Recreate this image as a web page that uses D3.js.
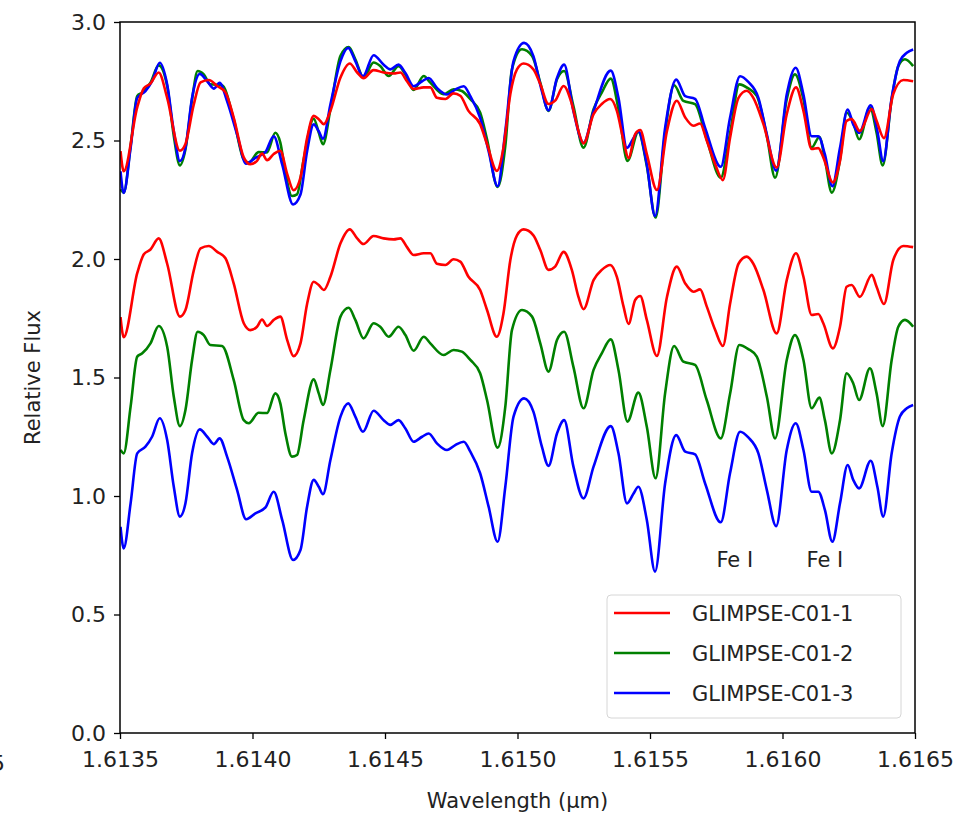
<!DOCTYPE html>
<html>
<head>
<meta charset="utf-8">
<script src="https://cdn.jsdelivr.net/npm/d3@7"></script>
<style>
  body { margin: 0; background: #fff; }
  svg { display: block; }
  text { font-family: "DejaVu Sans", sans-serif; fill: #222; }
</style>
</head>
<body>
<div id="chart"></div>
<script>
const width = 961;
const height = 819;
const margin = { top: 22, right: 46, bottom: 86, left: 120 };

const spec1 = [[1.613502,1.755],[1.613514,1.67],[1.613565,1.94],[1.613590,2.02],[1.613615,2.04],[1.613646,2.087],[1.613678,1.98],[1.613726,1.757],[1.613747,1.785],[1.613778,1.95],
  [1.613804,2.045],[1.613835,2.055],[1.613867,2.03],[1.613898,2.003],[1.613929,1.897],[1.613967,1.729],[1.613992,1.70],[1.614017,1.714],[1.614036,1.745],[1.614055,1.717],
  [1.614080,1.743],[1.614105,1.757],[1.614131,1.658],[1.614155,1.59],[1.614181,1.644],[1.614206,1.81],[1.614231,1.904],[1.614250,1.89],[1.614269,1.869],[1.614294,1.925],
  [1.614332,2.066],[1.614367,2.125],[1.614395,2.087],[1.614419,2.063],[1.614457,2.097],[1.614495,2.087],[1.614533,2.083],[1.614558,2.087],[1.614583,2.05],[1.614608,2.017],
  [1.614646,2.024],[1.614671,2.024],[1.614696,1.98],[1.614728,1.975],[1.614759,1.999],[1.614784,1.989],[1.614815,1.925],[1.614859,1.869],[1.614885,1.785],[1.614922,1.672],
  [1.614947,1.77],[1.614973,1.996],[1.614998,2.10],[1.615023,2.125],[1.615060,2.10],[1.615086,2.038],[1.615117,1.954],[1.615142,1.968],[1.615174,2.03],[1.615205,1.954],
  [1.615230,1.84],[1.615249,1.788],[1.615287,1.911],[1.615318,1.954],[1.615350,1.975],[1.615375,1.925],[1.615400,1.80],[1.615419,1.726],[1.615444,1.827],[1.615463,1.844],
  [1.615488,1.743],[1.615526,1.591],[1.615564,1.84],[1.615601,1.968],[1.615633,1.897],[1.615664,1.862],[1.615689,1.872],[1.615714,1.80],[1.615746,1.70],[1.615775,1.633],
  [1.615802,1.81],[1.615834,1.98],[1.615865,2.01],[1.615890,1.98],[1.615928,1.869],[1.615978,1.686],[1.616016,1.911],[1.616051,2.024],[1.616079,1.925],[1.616110,1.764],
  [1.616135,1.768],[1.616154,1.729],[1.616190,1.623],[1.616217,1.714],[1.616242,1.883],[1.616261,1.89],[1.616292,1.84],[1.616337,1.933],[1.616355,1.883],[1.616383,1.81],
  [1.616418,1.996],[1.616456,2.055],[1.616493,2.05]];

const spec2 = [[1.613502,1.194],[1.613514,1.18],[1.613540,1.377],[1.613565,1.588],[1.613584,1.602],[1.613615,1.644],[1.613646,1.717],[1.613678,1.63],[1.613703,1.419],[1.613726,1.295],
  [1.613747,1.363],[1.613772,1.574],[1.613793,1.693],[1.613816,1.679],[1.613841,1.637],[1.613885,1.633],[1.613929,1.49],[1.613967,1.32],[1.613986,1.307],[1.614023,1.351],
  [1.614055,1.35],[1.614086,1.433],[1.614105,1.391],[1.614124,1.265],[1.614149,1.166],[1.614168,1.173],[1.614193,1.32],[1.614231,1.492],[1.614250,1.433],[1.614266,1.384],
  [1.614294,1.532],[1.614332,1.757],[1.614363,1.794],[1.614388,1.743],[1.614419,1.665],[1.614457,1.729],[1.614482,1.714],[1.614514,1.672],[1.614551,1.714],[1.614577,1.679],
  [1.614608,1.613],[1.614646,1.672],[1.614671,1.644],[1.614721,1.595],[1.614759,1.616],[1.614790,1.609],[1.614822,1.574],[1.614859,1.518],[1.614885,1.405],[1.614925,1.204],
  [1.614954,1.377],[1.614979,1.70],[1.615017,1.785],[1.615055,1.757],[1.615086,1.644],[1.615117,1.525],[1.615149,1.658],[1.615176,1.693],[1.615211,1.545],[1.615249,1.37],
  [1.615287,1.532],[1.615318,1.602],[1.615352,1.661],[1.615381,1.532],[1.615415,1.314],[1.615456,1.436],[1.615488,1.292],[1.615521,1.075],[1.615557,1.433],[1.615591,1.633],
  [1.615626,1.567],[1.615670,1.553],[1.615714,1.405],[1.615767,1.243],[1.615802,1.43],[1.615837,1.637],[1.615871,1.62],[1.615903,1.588],[1.615941,1.419],[1.615972,1.243],
  [1.616016,1.574],[1.616047,1.679],[1.616079,1.574],[1.616110,1.37],[1.616139,1.415],[1.616160,1.32],[1.616186,1.18],[1.616217,1.32],[1.616242,1.518],[1.616267,1.475],
  [1.616289,1.405],[1.616330,1.539],[1.616355,1.433],[1.616378,1.295],[1.616412,1.574],[1.616437,1.714],[1.616462,1.743],[1.616493,1.714]];

const spec3 = [[1.613502,0.87],[1.613514,0.779],[1.613540,0.969],[1.613565,1.18],[1.613596,1.208],[1.613621,1.25],[1.613650,1.328],[1.613678,1.236],[1.613703,1.039],[1.613726,0.913],
  [1.613747,0.969],[1.613772,1.18],[1.613801,1.281],[1.613829,1.25],[1.613854,1.219],[1.613876,1.243],[1.613904,1.166],[1.613942,1.025],[1.613976,0.902],[1.614011,0.927],
  [1.614049,0.952],[1.614080,1.018],[1.614112,0.899],[1.614153,0.73],[1.614181,0.772],[1.614206,0.955],[1.614231,1.068],[1.614250,1.039],[1.614266,1.008],[1.614294,1.152],
  [1.614332,1.335],[1.614361,1.391],[1.614388,1.335],[1.614417,1.271],[1.614457,1.36],[1.614495,1.32],[1.614520,1.30],[1.614551,1.32],[1.614577,1.285],[1.614608,1.229],
  [1.614640,1.25],[1.614665,1.264],[1.614696,1.222],[1.614734,1.194],[1.614765,1.215],[1.614797,1.229],[1.614822,1.187],[1.614859,1.096],[1.614891,0.955],[1.614925,0.807],
  [1.614954,1.039],[1.614985,1.335],[1.615025,1.412],[1.615060,1.356],[1.615092,1.208],[1.615117,1.127],[1.615149,1.264],[1.615176,1.32],[1.615211,1.124],[1.615249,0.99],
  [1.615287,1.124],[1.615352,1.295],[1.615381,1.18],[1.615413,0.969],[1.615438,1.011],[1.615456,1.039],[1.615488,0.899],[1.615519,0.681],[1.615557,1.053],[1.615599,1.257],
  [1.615633,1.187],[1.615670,1.176],[1.615708,1.053],[1.615767,0.889],[1.615802,1.096],[1.615840,1.271],[1.615871,1.247],[1.615909,1.18],[1.615941,1.025],[1.615976,0.873],
  [1.616016,1.194],[1.616050,1.307],[1.616079,1.194],[1.616110,1.018],[1.616135,1.018],[1.616160,0.941],[1.616188,0.807],[1.616217,0.969],[1.616246,1.131],[1.616267,1.068],
  [1.616289,1.032],[1.616333,1.149],[1.616358,1.039],[1.616380,0.913],[1.616412,1.18],[1.616443,1.335],[1.616469,1.37],[1.616493,1.384]];

const names = ["GLIMPSE-C01-1", "GLIMPSE-C01-2", "GLIMPSE-C01-3"];
const colors = ["#ff0000", "#008000", "#0000ff"];
const offsets = [0.7, 1.1, 1.5];   // the overlaid copies sit this much higher
const yTicks = [0, 0.5, 1.0, 1.5, 2.0, 2.5, 3.0];
const xTicks = [1.6135, 1.6140, 1.6145, 1.6150, 1.6155, 1.6160, 1.6165];
const lineLabels = [{ w: 1.61582, t: "Fe I" }, { w: 1.61616, t: "Fe I" }];

const spectra = [spec1, spec2, spec3];

const svg = d3.select("#chart").append("svg")
  .attr("width", width)
  .attr("height", height);

const iw = width - margin.left - margin.right;
const ih = height - margin.top - margin.bottom;

const x = d3.scaleLinear().domain([1.6135, 1.6165]).range([0, iw]);
const y = d3.scaleLinear().domain([0, 3]).range([ih, 0]);

const g = svg.append("g").attr("transform", `translate(${margin.left},${margin.top})`);

g.append("clipPath").attr("id", "clip")
  .append("rect").attr("width", iw).attr("height", ih);

const line = (shift) => d3.line()
  .curve(d3.curveMonotoneX)
  .x(d => x(d[0]))
  .y(d => y(d[1] + shift));

const plot = g.append("g").attr("clip-path", "url(#clip)");

// overlaid group first (green, blue, red), then the shifted traces
[1, 2, 0].forEach(i => {
  plot.append("path")
    .datum(spectra[i])
    .attr("fill", "none")
    .attr("stroke", colors[i])
    .attr("stroke-width", 2.6)
    .attr("stroke-linejoin", "round")
    .attr("d", line(offsets[i]));
});
[0, 1, 2].forEach(i => {
  plot.append("path")
    .datum(spectra[i])
    .attr("fill", "none")
    .attr("stroke", colors[i])
    .attr("stroke-width", 2.6)
    .attr("stroke-linejoin", "round")
    .attr("d", line(0));
});

// axes
const xAxis = g.append("g")
  .attr("transform", `translate(0,${ih})`)
  .call(d3.axisBottom(x).tickValues(xTicks).tickFormat(d3.format(".4f")).tickSize(6).tickPadding(12));
const yAxis = g.append("g")
  .call(d3.axisLeft(y).tickValues(yTicks).tickFormat(d3.format(".1f")).tickSize(6).tickPadding(8));

[xAxis, yAxis].forEach(a => {
  a.select(".domain").remove();
  a.selectAll(".tick line").attr("stroke", "#000").attr("stroke-width", 1.3);
  a.selectAll(".tick text").attr("font-size", 22).attr("fill", "#222");
});

g.append("rect")
  .attr("width", iw).attr("height", ih)
  .attr("fill", "none")
  .attr("stroke", "#000")
  .attr("stroke-width", 1.5);

// absorption line labels
g.selectAll(".fe")
  .data(lineLabels)
  .join("text")
  .attr("x", d => x(d.w))
  .attr("y", y(0.70))
  .attr("text-anchor", "middle")
  .attr("font-size", 21)
  .text(d => d.t);

// axis titles
svg.append("text")
  .attr("x", margin.left + iw / 2)
  .attr("y", 808)
  .attr("text-anchor", "middle")
  .attr("font-size", 21)
  .text("Wavelength (μm)");

svg.append("text")
  .attr("transform", `translate(40,${margin.top + ih / 2}) rotate(-90)`)
  .attr("text-anchor", "middle")
  .attr("font-size", 21)
  .text("Relative Flux");

// tail of a tick label from the neighbouring panel, cut by the frame
svg.append("text")
  .attr("x", 5)
  .attr("y", 771)
  .attr("text-anchor", "end")
  .attr("font-size", 22)
  .text("5");

// legend
const lg = svg.append("g").attr("transform", "translate(607,595)");
lg.append("rect")
  .attr("width", 294).attr("height", 123)
  .attr("rx", 4)
  .attr("fill", "#fff").attr("fill-opacity", 0.8)
  .attr("stroke", "#d6d6d6");
const rows = lg.selectAll(".row")
  .data(names)
  .join("g")
  .attr("transform", (d, i) => `translate(0,${18 + i * 40})`);
rows.append("line")
  .attr("x1", 7).attr("x2", 63)
  .attr("stroke", (d, i) => colors[i])
  .attr("stroke-width", 2.6);
rows.append("text")
  .attr("x", 85).attr("y", 8)
  .attr("font-size", 21)
  .text(d => d);
</script>
</body>
</html>
